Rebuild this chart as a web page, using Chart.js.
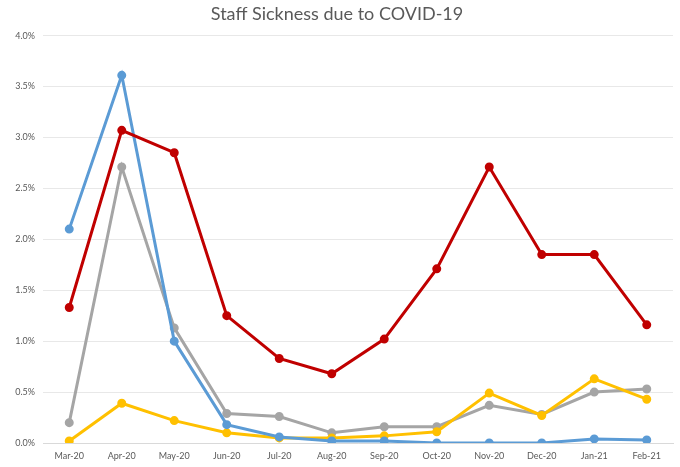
<!DOCTYPE html>
<html>
<head>
<meta charset="utf-8">
<title>Staff Sickness due to COVID-19</title>
<script src="https://cdn.jsdelivr.net/npm/chart.js@4/dist/chart.umd.min.js"></script>
<style>
    html, body { margin: 0; padding: 0; background: #fff; }
    #wrap { width: 680px; height: 467px; }
</style>
</head>
<body>
<div id="wrap"><canvas id="sicknessChart" width="680" height="467"></canvas></div>
<script>
// ===== DATA =====
const months = ['Mar-20', 'Apr-20', 'May-20', 'Jun-20', 'Jul-20', 'Aug-20', 'Sep-20', 'Oct-20', 'Nov-20', 'Dec-20', 'Jan-21', 'Feb-21'];

// values in percent
const blueSeries   = [2.10, 3.61, 1.00, 0.18, 0.06, 0.02, 0.02, 0.00, 0.00, 0.00, 0.04, 0.03];
const redSeries    = [1.33, 3.07, 2.85, 1.25, 0.83, 0.68, 1.02, 1.71, 2.71, 1.85, 1.85, 1.16];
const greySeries   = [0.20, 2.71, 1.13, 0.29, 0.26, 0.10, 0.16, 0.16, 0.37, 0.28, 0.50, 0.53];
const yellowSeries = [0.02, 0.39, 0.22, 0.10, 0.05, 0.05, 0.07, 0.11, 0.49, 0.27, 0.63, 0.43];

const yTicks = [0, 0.5, 1.0, 1.5, 2.0, 2.5, 3.0, 3.5, 4.0];

const fontFamily = 'Lato, "Open Sans", sans-serif';
const textColor = '#595959';

function makeSeries(label, data, color, order) {
    return {
        label: label,
        data: data,
        borderColor: color,
        backgroundColor: color,
        pointBackgroundColor: color,
        pointBorderColor: color,
        borderWidth: 3,
        pointRadius: 3,
        pointHoverRadius: 4,
        tension: 0,
        fill: false,
        order: order
    };
}

document.addEventListener('DOMContentLoaded', function() {
    const ctx = document.getElementById('sicknessChart');

    new Chart(ctx, {
        type: 'line',
        data: {
            labels: months,
            datasets: [
                makeSeries('Series 1', blueSeries, '#5B9BD5', 2),
                makeSeries('Series 2', redSeries, '#C00000', 1),
                makeSeries('Series 3', greySeries, '#A5A5A5', 4),
                makeSeries('Series 4', yellowSeries, '#FFC000', 3)
            ]
        },
        options: {
            responsive: false,
            animation: false,
            layout: {
                padding: { left: 0, right: 6, top: 0, bottom: 0 }
            },
            plugins: {
                legend: { display: false },
                tooltip: { enabled: false },
                title: {
                    display: true,
                    text: 'Staff Sickness due to COVID-19',
                    color: textColor,
                    font: { family: fontFamily, size: 18, weight: 'normal' },
                    padding: { top: 3, bottom: 11 }
                }
            },
            scales: {
                x: {
                    offset: true,
                    grid: {
                        display: true,
                        drawOnChartArea: false,
                        drawTicks: false,
                        color: '#d9d9d9'
                    },
                    border: { color: '#d9d9d9' },
                    ticks: {
                        color: textColor,
                        font: { family: fontFamily, size: 9 },
                        padding: 8,
                        maxRotation: 0,
                        autoSkip: false
                    },
                    afterFit: function(scale) { scale.height = 24; }
                },
                y: {
                    min: 0,
                    max: 4,
                    afterBuildTicks: function(scale) {
                        scale.ticks = yTicks.map(v => ({ value: v }));
                    },
                    grid: {
                        color: '#e8e8e8',
                        drawTicks: false
                    },
                    border: { display: false },
                    ticks: {
                        color: textColor,
                        font: { family: fontFamily, size: 9 },
                        padding: 8,
                        callback: function(value) { return value.toFixed(1) + '%'; }
                    },
                    afterFit: function(scale) { scale.width = 43; }
                }
            }
        }
    });
});
</script>
</body>
</html>
